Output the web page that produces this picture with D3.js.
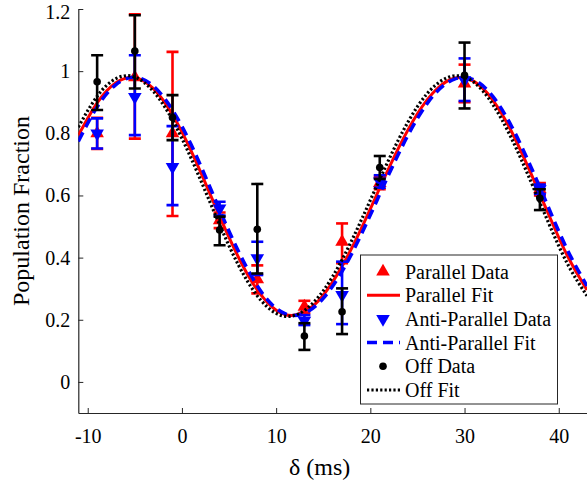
<!DOCTYPE html>
<html><head><meta charset="utf-8">
<script src="https://cdn.jsdelivr.net/npm/d3@7"></script>
<style>
body{margin:0;background:#fff;}
svg{display:block;}
svg text{font-family:"Liberation Serif","Tinos","Times New Roman","Times","Nimbus Roman","Noto Serif","FreeSerif","DejaVu Serif",serif !important;fill:#000;}
</style></head>
<body>
<svg id="chart" width="587" height="485"></svg>
<script>
// ---- data ----
const delays = [-9, -5, -1, 4, 8, 13, 17, 21, 30, 38];
const parallelData = [0.80, 0.98, 0.80, 0.52, 0.33, 0.242, 0.451, 0.64, 0.96, 0.62];
const parallelLow  = [0.75, 0.783, 0.534, 0.495, 0.285, 0.222, 0.382, 0.62, 0.90, 0.60];
const parallelHigh = [0.85, 1.183, 1.062, 0.545, 0.375, 0.261, 0.510, 0.66, 1.021, 0.64];
const antiData = [0.80, 0.917, 0.692, 0.558, 0.398, 0.197, 0.280, 0.645, 0.971, 0.62];
const antiLow  = [0.751, 0.794, 0.569, 0.535, 0.344, 0.183, 0.186, 0.625, 0.904, 0.605];
const antiHigh = [0.848, 1.051, 0.823, 0.580, 0.451, 0.215, 0.387, 0.665, 1.041, 0.635];
const offData = [0.966, 1.065, 0.851, 0.489, 0.491, 0.148, 0.226, 0.690, 0.987, 0.591];
const offLow  = [0.875, 0.944, 0.778, 0.440, 0.349, 0.103, 0.154, 0.653, 0.880, 0.553];
const offHigh = [1.051, 1.180, 0.923, 0.532, 0.637, 0.189, 0.301, 0.727, 1.092, 0.620];

const fitX = [-11,-9,-7,-5,-3,-1,1,3,5,7,9,11,13,15,17,19,21,23,25,27,29,31,33,35,37,39,41,43];
const parallelFit = [0.793,0.898,0.963,0.979,0.943,0.860,0.742,0.604,0.465,0.344,0.258,0.216,0.225,0.279,0.372,0.491,0.624,0.753,0.863,0.941,0.978,0.967,0.907,0.805,0.674,0.534,0.401,0.296];
const antiFit = [0.774,0.885,0.957,0.980,0.951,0.875,0.762,0.625,0.485,0.361,0.267,0.219,0.221,0.269,0.356,0.472,0.604,0.734,0.848,0.932,0.975,0.972,0.919,0.822,0.695,0.555,0.420,0.309];
const offFit = [0.820,0.919,0.976,0.981,0.934,0.843,0.718,0.577,0.438,0.322,0.243,0.211,0.230,0.293,0.393,0.518,0.652,0.780,0.886,0.957,0.985,0.964,0.893,0.783,0.648,0.506,0.376,0.277];

const xTicks = [-10, 0, 10, 20, 30, 40];
const yTicks = [0, 0.2, 0.4, 0.6, 0.8, 1, 1.2];
const legendLabels = ["Parallel Data", "Parallel Fit", "Anti-Parallel Data", "Anti-Parallel Fit", "Off Data", "Off Fit"];

// ---- layout ----
const svg = d3.select("#chart");
const L = 78.3, R = 587, T = 9, B = 413;
const x = d3.scaleLinear().domain([-11, 43]).range([L, R]);
const y = d3.scaleLinear().domain([-0.1, 1.2]).range([B, T]);
const axisColor = "#262626";
const serif = '"Liberation Serif","Tinos","Times New Roman","Times","Nimbus Roman","Noto Serif","FreeSerif","DejaVu Serif",serif';

svg.append("defs").append("clipPath").attr("id", "clip")
  .append("rect").attr("x", L).attr("y", 0).attr("width", R - L).attr("height", B);

// axes
const gx = svg.append("g").attr("transform", `translate(0,${B})`)
  .call(d3.axisBottom(x).tickValues(xTicks).tickSizeInner(-5).tickSizeOuter(0).tickPadding(16)
    .tickFormat(d3.format("d")));
const gy = svg.append("g").attr("transform", `translate(${L},0)`)
  .call(d3.axisLeft(y).tickValues(yTicks).tickSizeInner(-5).tickSizeOuter(0).tickPadding(8)
    .tickFormat(d => d === 0 || d === 1 ? String(d) : d3.format(".1f")(d)));
[gx, gy].forEach(g => {
  g.attr("font-family", serif);
  g.select(".domain").attr("stroke", axisColor).attr("stroke-width", 1.2);
  g.selectAll(".tick line").attr("stroke", axisColor).attr("stroke-width", 1);
  g.selectAll(".tick text").attr("font-size", 20).attr("fill", "#000");
});
gx.selectAll(".tick text").text(d => d < 0 ? "-" + Math.abs(d) : d);
// keep the top label inside the picture
gy.selectAll(".tick text").filter(d => d === 1.2).attr("y", 3);

// axis titles
svg.append("text").attr("x", (L + 567) / 2 - 3).attr("y", 475).attr("text-anchor", "middle")
  .attr("font-size", 24).text("δ (ms)");
svg.append("text").attr("transform", `translate(29,${(T + B) / 2}) rotate(-90)`)
  .attr("text-anchor", "middle").attr("font-size", 24).text("Population Fraction");

const plot = svg.append("g").attr("clip-path", "url(#clip)");
const line = d3.line().x(d => x(d[0])).y(d => y(d[1])).curve(d3.curveNatural);

const tri = d3.symbol().type(d3.symbolTriangle).size(80);
const series = [
  {color: "red", vals: parallelData, lo: parallelLow, hi: parallelHigh, fit: parallelFit, kind: "up",
   dash: null, width: 3},
  {color: "#0000ff", vals: antiData, lo: antiLow, hi: antiHigh, fit: antiFit, kind: "down",
   dash: "10,6", width: 3.5},
  {color: "#000", vals: offData, lo: offLow, hi: offHigh, fit: offFit, kind: "dot",
   dash: "2.2,2.2", width: 3.2}
];

function drawMarker(g, kind, color, cx, cy) {
  if (kind === "dot") {
    g.append("circle").attr("cx", cx).attr("cy", cy).attr("r", 3.8).attr("fill", color);
  } else {
    g.append("path").attr("d", tri)
      .attr("transform", `translate(${cx},${cy})` + (kind === "down" ? " rotate(180)" : ""))
      .attr("fill", color);
  }
}

series.forEach(s => {
  const g = plot.append("g");
  delays.forEach((dx, i) => {
    const cx = x(dx);
    g.append("line").attr("x1", cx).attr("x2", cx).attr("y1", y(s.lo[i])).attr("y2", y(s.hi[i]))
      .attr("stroke", s.color).attr("stroke-width", 2.6);
    [s.lo[i], s.hi[i]].forEach(v => {
      g.append("line").attr("x1", cx - 6).attr("x2", cx + 6).attr("y1", y(v)).attr("y2", y(v))
        .attr("stroke", s.color).attr("stroke-width", 2.6);
    });
    drawMarker(g, s.kind, s.color, cx, y(s.vals[i]));
  });
  g.append("path").datum(fitX.map((fx, i) => [fx, s.fit[i]]))
    .attr("d", line).attr("fill", "none").attr("stroke", s.color)
    .attr("stroke-width", s.width).attr("stroke-dasharray", s.dash);
});

// legend
const lg = svg.append("g");
lg.append("rect").attr("x", 360.5).attr("y", 255).attr("width", 197).attr("height", 149)
  .attr("fill", "#fff").attr("stroke", axisColor).attr("stroke-width", 1);
const rowY = i => 271.5 + i * 23.7;
legendLabels.forEach((lab, i) => {
  const s = series[Math.floor(i / 2)];
  const cy = rowY(i);
  if (i % 2 === 0) {
    drawMarker(lg, s.kind, s.color, 383, cy);
  } else {
    lg.append("line").attr("x1", 367).attr("x2", 400).attr("y1", cy).attr("y2", cy)
      .attr("stroke", s.color).attr("stroke-width", s.width).attr("stroke-dasharray", s.dash);
  }
  lg.append("text").attr("x", 405).attr("y", cy).attr("dy", "0.35em").attr("font-size", 20).text(lab);
});
</script>
</body></html>
